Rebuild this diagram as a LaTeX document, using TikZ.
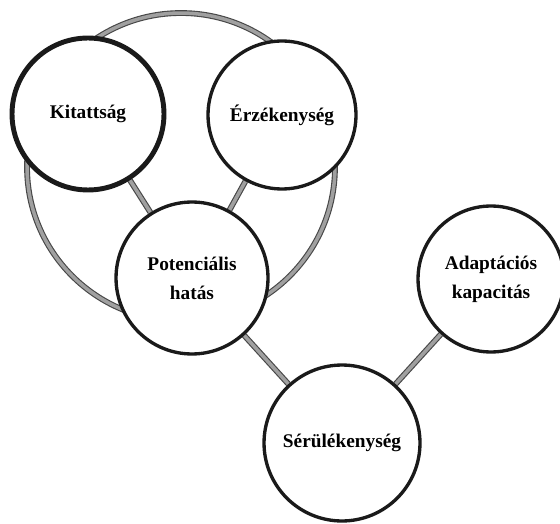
\documentclass[tikz,border=0pt]{standalone}
\usepackage{fontspec}
\setmainfont{Liberation Serif}
\usetikzlibrary{positioning, backgrounds}
\definecolor{InkBlack}{HTML}{1A1A1A}
\definecolor{BandGray}{HTML}{A0A0A0}
\definecolor{EdgeGray}{HTML}{484848}
\tikzset{
  factor/.style={circle, draw=InkBlack, line width=1.9pt, fill=white, align=center, minimum size=2.96cm, inner sep=2pt, font=\fontsize{11}{16.5}\selectfont\bfseries},
  strongfactor/.style={factor, line width=2.8pt},
  band/.style={draw=EdgeGray, line width=0.65pt, double=BandGray, double distance=2pt}
}
\begin{document}
\begin{tikzpicture}[x=0.02cm, y=-0.02cm]
\useasboundingbox (0,0) rectangle (560,523);
\node[strongfactor, minimum size=3.04cm] (kit) at (88,114) {Kitattság};
\node[factor] (erz) at (282,115) {Érzékenység};
\node[factor, minimum size=3.04cm] (pot) at (192,278) {Potenciális\\hatás};
\node[factor, minimum size=2.92cm] (adapt) at (491,279) {Adaptációs\\kapacitás};
\node[factor, minimum size=3.12cm] (seru) at (342,443) {Sérülékenység};
\begin{scope}[on background layer]
\node[band, circle, minimum size=6.16cm] (ring) at (181,167) {};
\draw[band] (kit) -- (pot);
\draw[band] (erz) -- (pot);
\draw[band] (pot) -- (seru);
\draw[band] (adapt) -- (seru);
\end{scope}
\end{tikzpicture}
\end{document}
